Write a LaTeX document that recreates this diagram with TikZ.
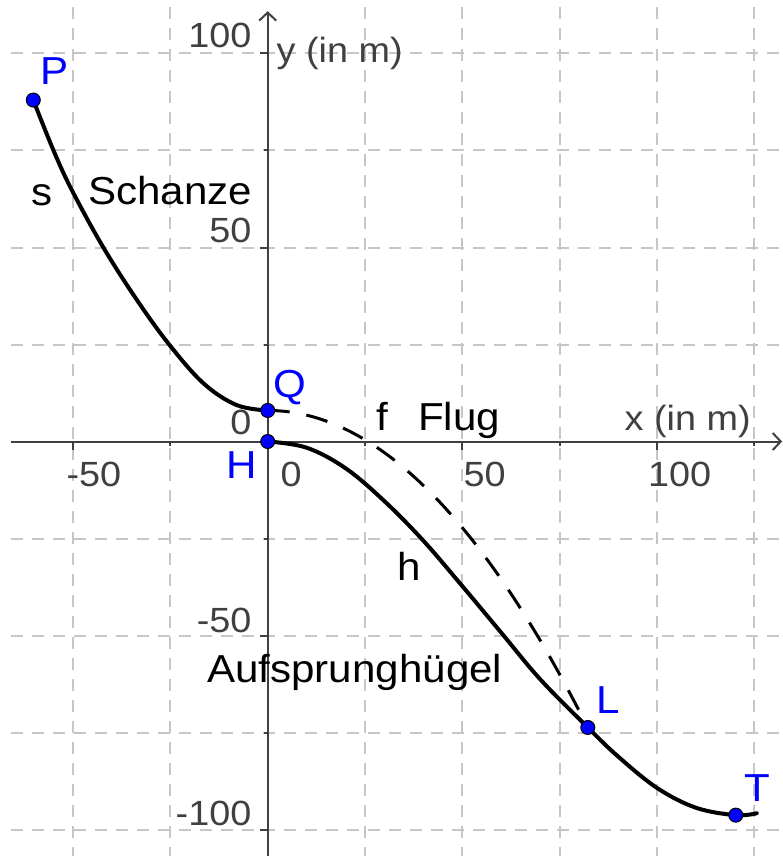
\documentclass[tikz,border=0pt]{standalone}
\usepackage{fontspec}
\setmainfont{Liberation Sans}[FakeStretch=1.08]
\usetikzlibrary{arrows.meta}
\definecolor{gridgray}{RGB}{198,198,198}
\definecolor{axgray}{RGB}{64,64,64}
\definecolor{ptblue}{RGB}{0,0,255}
\tikzset{
  gridline/.style={gridgray, line width=2pt, dash pattern=on 12pt off 9pt},
  axisline/.style={axgray, line width=2pt},
  tickline/.style={axgray, line width=2pt},
  ticklabel/.style={axgray, inner sep=0pt, font=\fontsize{35}{40}\selectfont},
  axislabel/.style={axgray, inner sep=0pt, font=\fontsize{35}{40}\selectfont, anchor=base west},
  caption/.style={black, inner sep=0pt, font=\fontsize{39}{44}\selectfont, anchor=base west},
  ptlabel/.style={ptblue, inner sep=0pt, font=\fontsize{39}{44}\selectfont, anchor=base west},
  curve/.style={black, line width=4pt, line cap=round, line join=round},
  flight/.style={black, line width=3pt, dash pattern=on 22pt off 17pt},
  pt/.style={circle, fill=ptblue, draw=black, line width=1pt, minimum size=14pt, inner sep=0pt},
}
\begin{document}
\begin{tikzpicture}[x=1pt, y=-1pt]
\path[use as bounding box] (0,0) rectangle (783,856);
\fill[white] (0,0) rectangle (783,856);
\begin{scope}[shift={(267.7,441.5)}, x=3.894pt, y=3.88pt]
  % grid
  \foreach \gx in {-50,-25,25,50,75,100,125}
    \draw[gridline] (\gx,111.98) -- (\gx,-106.9);
  \foreach \gy in {100,75,50,25,-25,-50,-75,-100}
    \draw[gridline] (-65.92,\gy) -- (132.4,\gy);
  % axes
  \coordinate (xs) at (-65.92,0);
  \coordinate (xe) at (132.1,0);
  \coordinate (ys) at (0,-106.9);
  \coordinate (ye) at (0,110.9);
  \draw[axisline, -{Straight Barb[length=8pt,width=17pt]}] (xs) -- (xe);
  \draw[axisline, -{Straight Barb[length=8pt,width=17pt]}] (ys) -- (ye);
  % ticks
  \foreach \gx in {-50,50,100} \draw[tickline] (\gx,0) -- ++(0pt,-8pt);
  \foreach \gx in {-25,25,75,125} \draw[tickline] (\gx,0) -- ++(0pt,-4pt);
  \foreach \gy in {100,50,-50,-100} \draw[tickline] (0,\gy) -- ++(-8pt,0pt);
  \foreach \gy in {75,25,-25,-75} \draw[tickline] (0,\gy) -- ++(-4pt,0pt);
  % point positions
  \coordinate (cP) at (-60.2,88);
  \coordinate (cQ) at (0,8);
  \coordinate (cH) at (0,0);
  \coordinate (cL) at (82.2,-73.7);
  \coordinate (cT) at (120.2,-96.3);
  % curves
  \draw[curve] plot[smooth, tension=0.6] coordinates
    {(cP) (-55,75) (-50.3,64.8) (-42.2,50) (-33.6,36.5) (-25.3,25) (-16.5,15) (-8,9.4) (cQ)};
  \draw[flight] plot[domain=0:82.2, samples=80, variable=\t] ({\t},{8-0.0121*\t*\t});
  \draw[curve] plot[smooth, tension=0.6] coordinates
    {(cH) (10,-1.6) (20,-6.9) (30,-15.4) (40,-25.6) (50,-37.3) (60,-49.3) (70,-61.3)
     (cL) (90,-81.2) (100,-89.3) (110,-94.4) (cT) (125.6,-95.8)};
  % points
  \node[pt] (P) at (cP) {};
  \node[pt] (Q) at (cQ) {};
  \node[pt] (H) at (cH) {};
  \node[pt] (L) at (cL) {};
  \node[pt] (T) at (cT) {};
\end{scope}
% tick labels
\node[ticklabel, anchor=base east] (y100) at (251.6,47.5) {100};
\node[ticklabel, anchor=base east] (y50) at (251.6,242) {50};
\node[ticklabel, anchor=base east] (y0) at (251.6,434) {0};
\node[ticklabel, anchor=base east] (ym50) at (251.6,632) {-50};
\node[ticklabel, anchor=base east] (ym100) at (251.6,825) {-100};
\node[ticklabel, anchor=base west] (xm50) at (66.3,486) {-50};
\node[ticklabel, anchor=base west] (x0) at (280.4,486) {0};
\node[ticklabel, anchor=base west] (x50) at (463.4,486) {50};
\node[ticklabel, anchor=base west] (x100) at (648,486) {100};
% axis labels
\node[axislabel] (ylab) at (276.5,62.5) {y (in m)};
\node[axislabel] (xlab) at (624.5,430) {x (in m)};
% captions
\node[caption] (slab) at (31,205) {s};
\node[caption] (schanze) at (88,204) {Schanze};
\node[caption] (flab) at (376.5,430) {f};
\node[caption] (flug) at (418,430) {Flug};
\node[caption] (hlab) at (397,580) {h};
\node[caption] (auf) at (207,682) {Aufsprunghügel};
% point labels
\node[ptlabel] (Plab) at (40,85) {P};
\node[ptlabel] (Qlab) at (273,397) {Q};
\node[ptlabel] (Hlab) at (226.6,478) {H};
\node[ptlabel] (Llab) at (596,713) {L};
\node[ptlabel] (Tlab) at (744,801) {T};
\end{tikzpicture}
\end{document}
